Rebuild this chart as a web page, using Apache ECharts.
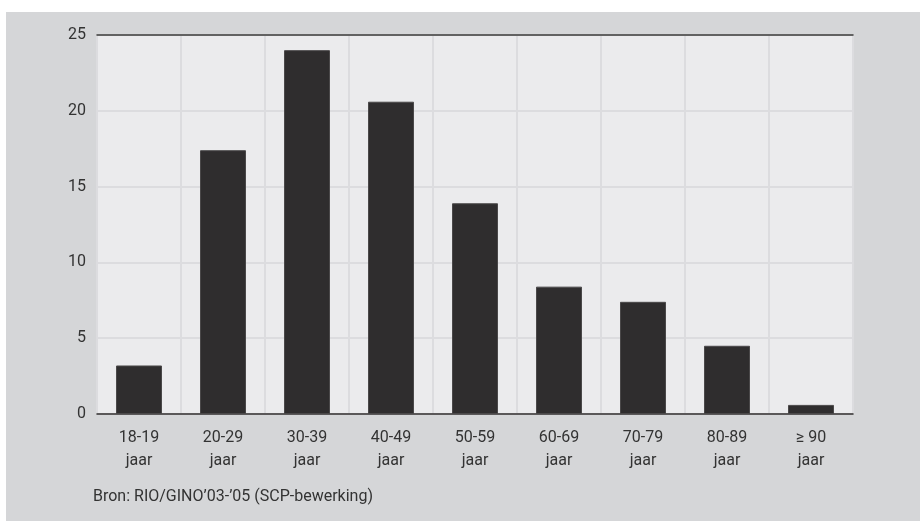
<!DOCTYPE html>
<html>
<head>
<meta charset="utf-8">
<script src="https://cdn.jsdelivr.net/npm/echarts@6/dist/echarts.min.js"></script>
<style>
  html, body { margin: 0; padding: 0; background: #ffffff; }
  #chart { width: 920px; height: 521px; }
</style>
</head>
<body>
<div id="chart"></div>
<script>
// Leeftijdsgroepen en percentages
const categories = ['18-19\njaar', '20-29\njaar', '30-39\njaar', '40-49\njaar', '50-59\njaar',
                    '60-69\njaar', '70-79\njaar', '80-89\njaar', '\u2265 90\njaar'];
const values = [3.2, 17.4, 24.0, 20.6, 13.9, 8.4, 7.4, 4.5, 0.6];
const yTicks = [0, 5, 10, 15, 20, 25];
const sourceText = 'Bron: RIO/GINO\u201903-\u201905 (SCP-bewerking)';

const font = 'Roboto, "Liberation Sans", Arial, sans-serif';
const chart = echarts.init(document.getElementById('chart'), null, { renderer: 'canvas' });

chart.setOption({
  backgroundColor: '#ffffff',
  animation: false,
  textStyle: { fontFamily: font },
  graphic: [
    {
      type: 'rect', z: -10, silent: true,
      shape: { x: 6, y: 12, width: 914, height: 509 },
      style: { fill: '#d5d6d8' }
    },
    {
      type: 'text', left: 93, top: 489,
      style: { text: sourceText, fontFamily: font, fontSize: 16, fill: '#333333' }
    }
  ],
  grid: {
    left: 97, top: 35, right: 67, bottom: 107,
    show: true, backgroundColor: '#ebebed', borderWidth: 0
  },
  xAxis: [
    {
      type: 'category',
      data: categories,
      position: 'bottom',
      axisLine: { lineStyle: { color: '#2f2d2e', width: 1.5 } },
      axisTick: { alignWithLabel: true, length: 6, lineStyle: { color: '#2f2d2e' } },
      axisLabel: { color: '#333333', fontSize: 16, lineHeight: 23, margin: 12 },
      splitLine: { show: true, lineStyle: { color: '#dcdcdf', width: 2 } }
    },
    {
      type: 'category',
      data: categories,
      position: 'top',
      axisLine: { lineStyle: { color: '#3a3a3a', width: 1.5 } },
      axisTick: { show: false },
      axisLabel: { show: false },
      splitLine: { show: false }
    }
  ],
  yAxis: {
    type: 'value',
    min: yTicks[0],
    max: yTicks[yTicks.length - 1],
    interval: 5,
    axisLine: { show: false },
    axisTick: { show: false },
    axisLabel: { color: '#333333', fontSize: 16, margin: 11 },
    splitLine: { lineStyle: { color: '#dcdcdf', width: 2 } }
  },
  series: [{
    type: 'bar',
    data: values,
    barWidth: 46,
    itemStyle: { color: '#2f2d2e', borderColor: '#4a4849', borderWidth: 1 }
  }]
});
</script>
</body>
</html>
